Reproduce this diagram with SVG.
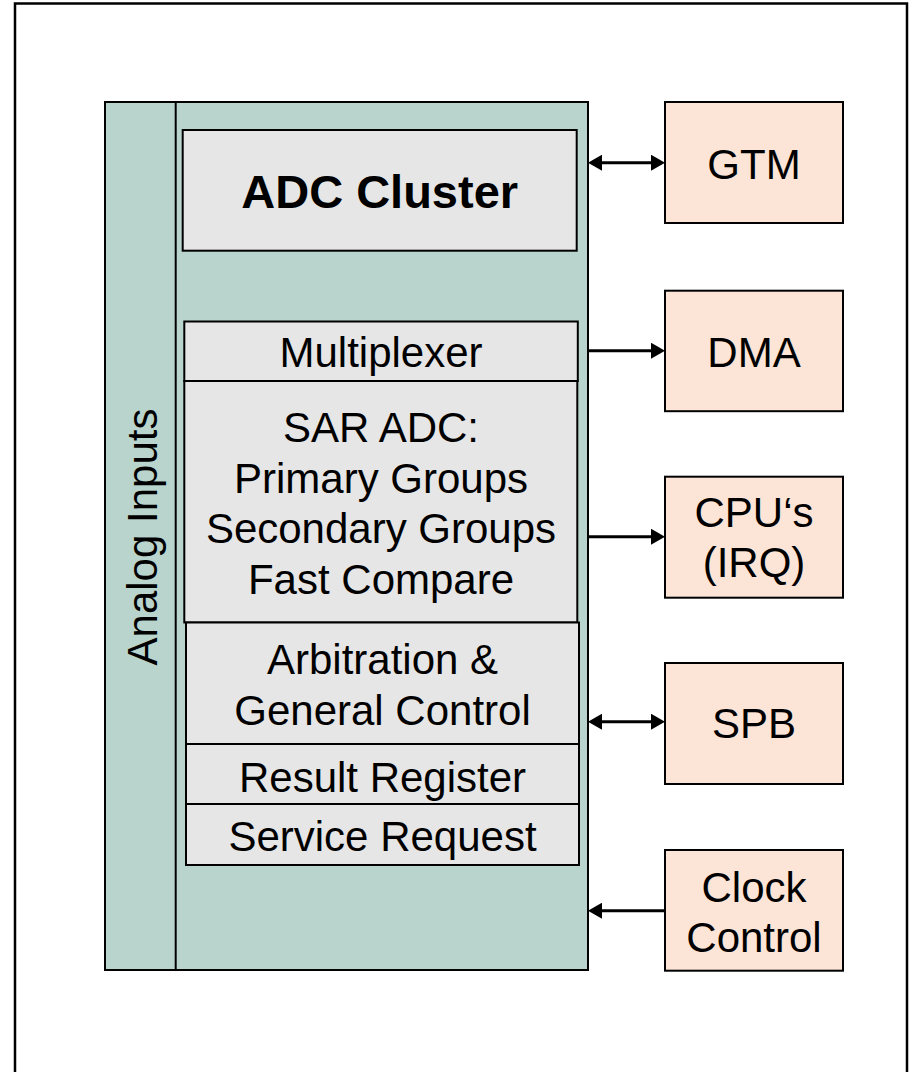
<svg xmlns="http://www.w3.org/2000/svg" width="912" height="1072" viewBox="0 0 912 1072">
<style>
.frame{fill:#ffffff;stroke:#000;stroke-width:2.5}
.teal{fill:#B8D4CC;stroke:#000;stroke-width:2}
.grey{fill:#E7E6E6;stroke:#000;stroke-width:2}
.peach{fill:#FCE4D6;stroke:#000;stroke-width:2}
.t{font-family:"Liberation Sans",Arial,sans-serif;font-size:42px;fill:#000;text-anchor:middle}
.b{font-weight:bold;font-size:47px}
.c{stroke:#000;stroke-width:3;fill:none}
</style>
<defs>
<marker id="ah" viewBox="0 0 14 16" refX="6" refY="8" markerWidth="14" markerHeight="16" markerUnits="userSpaceOnUse" orient="auto-start-reverse">
<path d="M0,0 L14,8 L0,16 Z" fill="#000"/>
</marker>
</defs>
<rect class="frame" x="15" y="3.5" width="892" height="1100"/>
<g id="adc">
<rect class="teal" x="105" y="102" width="483" height="868"/>
<line x1="175.7" y1="102" x2="175.7" y2="970" stroke="#000" stroke-width="2"/>
</g>
<g id="analog-inputs">
<text class="t" transform="translate(156.7,537) rotate(-90)">Analog Inputs</text>
</g>
<g id="adc-cluster">
<rect class="grey" x="182.7" y="130" width="394" height="120.7"/>
<text class="t b" x="379.7" y="208.3">ADC Cluster</text>
</g>
<g id="multiplexer">
<rect class="grey" x="184.3" y="321.5" width="393.5" height="59.5"/>
<text class="t" x="381" y="366.7">Multiplexer</text>
</g>
<g id="sar-adc">
<rect class="grey" x="184.3" y="381" width="393" height="241.5"/>
<text class="t" x="381" y="441.7">SAR ADC:</text>
<text class="t" x="381" y="492.5">Primary Groups</text>
<text class="t" x="381" y="543.3">Secondary Groups</text>
<text class="t" x="381" y="594">Fast Compare</text>
</g>
<g id="arbitration">
<rect class="grey" x="186" y="622.5" width="393" height="121.5"/>
<text class="t" x="382.5" y="674">Arbitration &amp;</text>
<text class="t" x="382.5" y="725">General Control</text>
</g>
<g id="result-register">
<rect class="grey" x="186" y="744" width="393" height="60"/>
<text class="t" x="382.5" y="791.7">Result Register</text>
</g>
<g id="service-request">
<rect class="grey" x="186" y="804" width="393" height="61"/>
<text class="t" x="382.5" y="850.7">Service Request</text>
</g>
<g id="gtm">
<rect class="peach" x="665" y="102" width="178" height="121"/>
<text class="t" x="754" y="179.3">GTM</text>
</g>
<g id="dma">
<rect class="peach" x="665" y="290.7" width="178" height="120.5"/>
<text class="t" x="754" y="366.7">DMA</text>
</g>
<g id="cpus">
<rect class="peach" x="665" y="476.7" width="178" height="121"/>
<text class="t" x="754" y="526.7">CPU‘s</text>
<text class="t" x="754" y="576.7">(IRQ)</text>
</g>
<g id="spb">
<rect class="peach" x="665" y="663" width="178" height="121"/>
<text class="t" x="754" y="738.3">SPB</text>
</g>
<g id="clock-control">
<rect class="peach" x="665" y="850" width="178" height="120.7"/>
<text class="t" x="754" y="901.7">Clock</text>
<text class="t" x="754" y="951.7">Control</text>
</g>
<g id="connectors">
<line class="c" x1="596" y1="162.7" x2="657" y2="162.7" marker-start="url(#ah)" marker-end="url(#ah)"/>
<line class="c" x1="588" y1="350.7" x2="657" y2="350.7" marker-end="url(#ah)"/>
<line class="c" x1="588" y1="536.7" x2="657" y2="536.7" marker-end="url(#ah)"/>
<line class="c" x1="596" y1="721.7" x2="657" y2="721.7" marker-start="url(#ah)" marker-end="url(#ah)"/>
<line class="c" x1="665" y1="910.7" x2="596" y2="910.7" marker-end="url(#ah)"/>
</g>
</svg>
